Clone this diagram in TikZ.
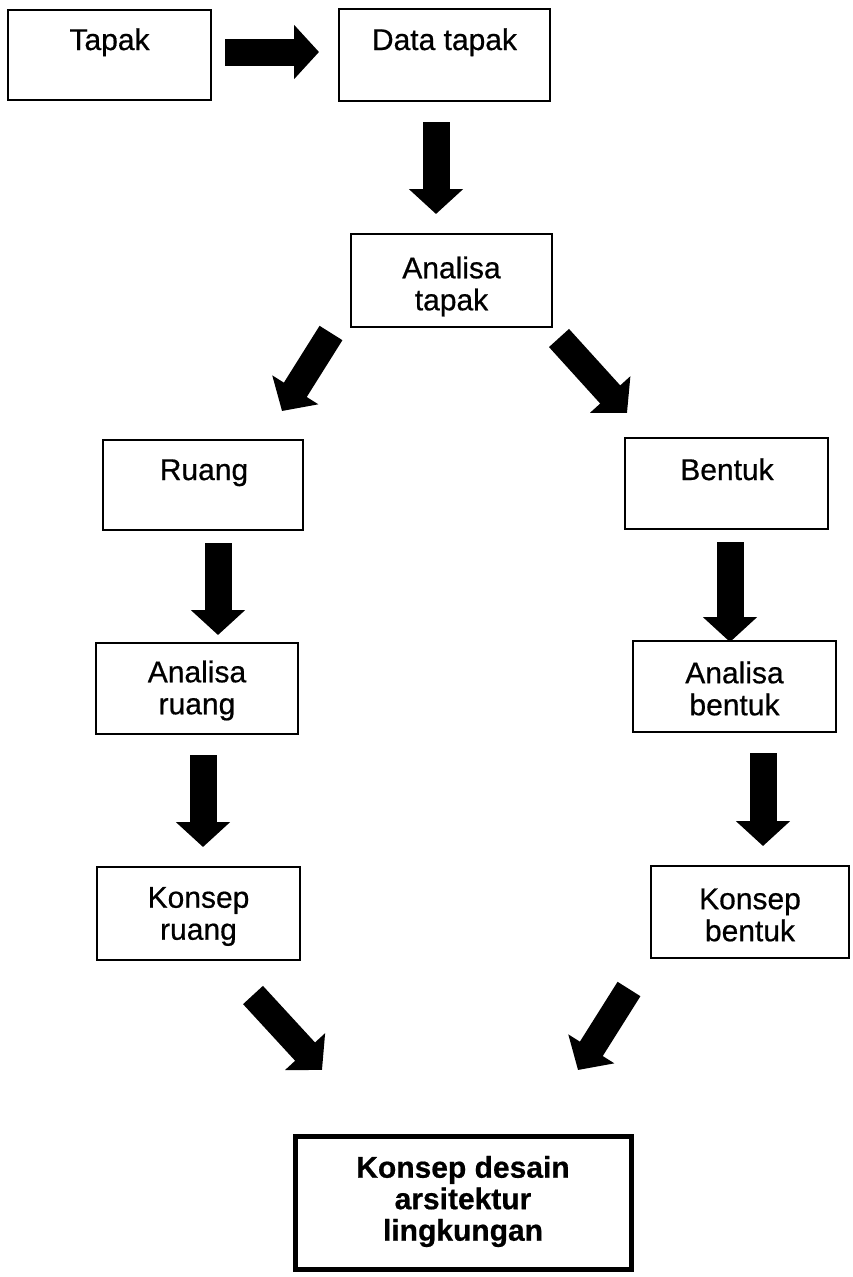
\documentclass[tikz,border=0pt]{standalone}
\usepackage{fontspec}
\setmainfont{Liberation Sans}
\newfontface\scanfont{Liberation Sans}[FakeBold=0.6]
\newfontface\scanbold{Liberation Sans Bold}[FakeBold=0.6]
\usetikzlibrary{arrows.meta}
\begin{document}
\begin{tikzpicture}[x=1pt,y=-1pt,
  box/.style={draw=black, line width=1.7pt, fill=white, inner sep=0pt},
  finalbox/.style={box, line width=5pt},
  lbl/.style={anchor=base, inner sep=0pt, font=\fontsize{30}{31}\scanfont},
  lbl2/.style={inner sep=0pt, align=center, font=\fontsize{30}{32}\scanfont},
  lblb/.style={inner sep=0pt, align=center, font=\fontsize{30}{31.5}\scanbold},
  bigarrow/.style={black, line width=27pt, line cap=butt, -{Triangle[length=25pt, width=53pt]}},
]
\useasboundingbox (0,0) rectangle (852,1277);

% boxes
\node[box, minimum width=203pt, minimum height=90pt] (tapak) at (109.5,55) {};
\node[lbl] (tapakT) at (109.5,50) {Tapak};
\node[box, minimum width=211pt, minimum height=92pt] (datatapak) at (444.5,55) {};
\node[lbl] (datatapakT) at (444.5,50) {Data tapak};
\node[box, minimum width=201pt, minimum height=93pt] (analisatapak) at (451.5,280.5) {};
\node[lbl2] (analisatapakT) at ([yshift=-6pt]analisatapak.center) {Analisa\\tapak};
\node[box, minimum width=200pt, minimum height=90pt] (ruang) at (203,485) {};
\node[lbl] (ruangT) at (204,480) {Ruang};
\node[box, minimum width=203pt, minimum height=91pt] (bentuk) at (726.5,483.5) {};
\node[lbl] (bentukT) at (727,480) {Bentuk};
\node[box, minimum width=202pt, minimum height=91pt] (analisaruang) at (197,688.5) {};
\node[lbl2] (analisaruangT) at ([yshift=-2pt]analisaruang.center) {Analisa\\ruang};
\node[box, minimum width=203pt, minimum height=91pt] (analisabentuk) at (734.5,686.5) {};
\node[lbl2] (analisabentukT) at ([yshift=-2pt]analisabentuk.center) {Analisa\\bentuk};
\node[box, minimum width=203pt, minimum height=93pt] (konsepruang) at (198.5,913.5) {};
\node[lbl2] (konsepruangT) at ([yshift=-3pt]konsepruang.center) {Konsep\\ruang};
\node[box, minimum width=198pt, minimum height=92pt] (konsepbentuk) at (750,912) {};
\node[lbl2] (konsepbentukT) at ([yshift=-3pt]konsepbentuk.center) {Konsep\\bentuk};
\node[finalbox, minimum width=336pt, minimum height=133pt] (final) at (463,1202.5) {};
\node[lblb] (finalT) at ([yshift=1pt]final.center) {Konsep desain\\arsitektur\\lingkungan};

% arrow end points
\coordinate (h1s) at (225,52);   \coordinate (h1e) at (319,52);
\coordinate (v1s) at (436,122);  \coordinate (v1e) at (436,214);
\coordinate (d1s) at (331,333);  \coordinate (d1e) at (282,411);
\coordinate (d2s) at (559,338);  \coordinate (d2e) at (627,413);
\coordinate (v2s) at (218,543);  \coordinate (v2e) at (218,635);
\coordinate (v3s) at (730,542);  \coordinate (v3e) at (730,642);
\coordinate (v4s) at (203,755);  \coordinate (v4e) at (203,847);
\coordinate (v5s) at (763,753);  \coordinate (v5e) at (763,846);
\coordinate (d3s) at (253,995);  \coordinate (d3e) at (322,1070);
\coordinate (d4s) at (629,989);  \coordinate (d4e) at (578,1070);

% arrows
\draw[bigarrow] (h1s) -- (h1e);
\draw[bigarrow] (v1s) -- (v1e);
\draw[bigarrow] (d1s) -- (d1e);
\draw[bigarrow] (d2s) -- (d2e);
\draw[bigarrow] (v2s) -- (v2e);
\draw[bigarrow] (v3s) -- (v3e);
\draw[bigarrow] (v4s) -- (v4e);
\draw[bigarrow] (v5s) -- (v5e);
\draw[bigarrow] (d3s) -- (d3e);
\draw[bigarrow] (d4s) -- (d4e);
\end{tikzpicture}
\end{document}
